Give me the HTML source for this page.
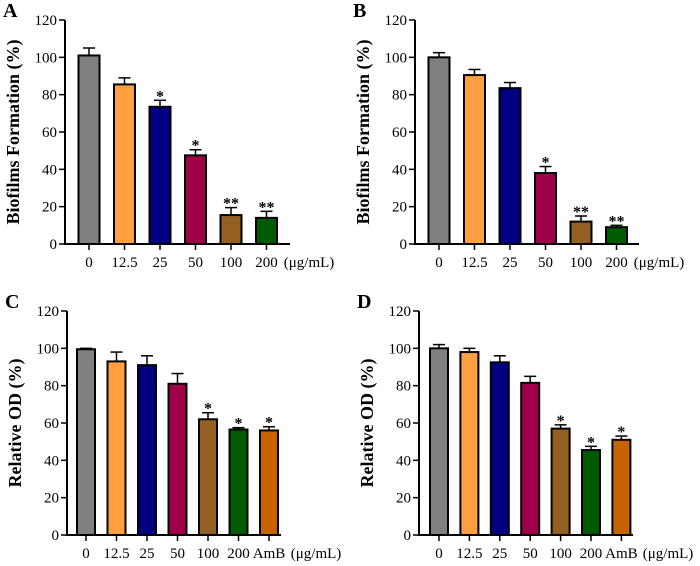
<!DOCTYPE html>
<html><head><meta charset="utf-8"><style>
html,body{margin:0;padding:0;background:#fff;}
svg, svg text{font-family:"Liberation Serif","Times New Roman",Times,serif;}
</style></head><body>
<svg id="chart" width="700" height="561" viewBox="0 0 700 561" font-family="Liberation Serif, Times New Roman, serif"></svg>
<script>
const catsAB = ["0","12.5","25","50","100","200"];
const catsCD = ["0","12.5","25","50","100","200","AmB"];
const valsA = [101, 85.5, 73.5, 47.5, 15.5, 14];
const errA  = [4, 3.5, 3.5, 3, 4, 3.5];
const starA = ["","","*","*","**","**"];
const valsB = [100, 90.5, 83.5, 38, 12, 9];
const errB  = [2.5, 3, 3, 3.5, 3, 1];
const starB = ["","","","*","**","**"];
const valsC = [99.5, 93, 91, 81, 62, 56.5, 56];
const errC  = [0.5, 5, 5, 5.5, 3.5, 1, 2];
const starC = ["","","","","*","*","*"];
const valsD = [100, 98, 92.5, 81.5, 57, 45.5, 51];
const errD  = [2, 2, 3.5, 3.5, 2, 2, 2];
const starD = ["","","","","*","*","*"];
const yTicks = [0,20,40,60,80,100,120];
const colors = ["#808080","#FFA040","#000080","#A0004A","#946022","#005A00","#C86400"];

const NS="http://www.w3.org/2000/svg";
const svg=document.getElementById('chart');
function mk(tag,attrs,parent,text){const e=document.createElementNS(NS,tag);for(const k in attrs)e.setAttribute(k,attrs[k]);if(text!==undefined)e.textContent=text;(parent||svg).appendChild(e);return e;}

function panel(p){
  const g=mk('g',{});
  
  
  const y=v=>p.y0-(v/120)*(p.y0-p.y120);
  const x=i=>p.c0+i*p.step;
  const lt=mk('text',{x:p.ax-62,y:p.y120-3,'font-size':20,'font-weight':'bold'},g,p.letter);
  
  
  p.vals.forEach((v,i)=>{
    const cx=x(i), top=y(v), eTop=y(v+p.err[i]);
    const eb=mk('g',{},g);
    
    
    mk('line',{x1:cx,x2:cx,y1:top,y2:eTop,stroke:'#000','stroke-width':1.5},eb);
    mk('line',{x1:cx-6,x2:cx+6,y1:eTop,y2:eTop,stroke:'#000','stroke-width':1.5},eb);
    const r=mk('rect',{x:cx-p.bw/2,y:top,width:p.bw,height:p.y0-top,fill:colors[i],stroke:'#000','stroke-width':2},g);
    
    
    if(p.star[i]){
      const s=mk('text',{x:cx,y:eTop+1,'text-anchor':'middle','font-size':16,'font-weight':'bold'},g,p.star[i]);
      
      
    }
    mk('line',{x1:cx,x2:cx,y1:p.y0,y2:p.y0+6,stroke:'#000','stroke-width':1.5},g);
    const tl=mk('text',{x:cx,y:p.y0+23,'text-anchor':'middle','font-size':15},g,p.cats[i]);
    
    
  });
  const ya=mk('line',{x1:p.ax,x2:p.ax,y1:p.y120,y2:p.y0+1,stroke:'#000','stroke-width':2},g);
  
  
  const xa=mk('line',{x1:p.ax-1,x2:p.xend,y1:p.y0,y2:p.y0,stroke:'#000','stroke-width':2},g);
  
  
  yTicks.forEach(t=>{
    mk('line',{x1:p.ax-6,x2:p.ax,y1:y(t),y2:y(t),stroke:'#000','stroke-width':1.5},g);
    const tl=mk('text',{x:p.ax-8,y:y(t)+5,'text-anchor':'end','font-size':15},g,String(t));
    
    
  });
  const u=mk('text',{x:p.unitX,y:p.y0+23,'text-anchor':'middle','font-size':15},g,'(\u03BCg/mL)');
  
  
  const cy=(p.y0+p.y120)/2, tx=p.ax-46;
  const at=mk('text',{x:tx,y:cy,'text-anchor':'middle','font-size':18,'font-weight':'bold',transform:`rotate(-90 ${tx} ${cy})`},g,p.title);
  
  
}
panel({letter:'A',cats:catsAB,vals:valsA,err:errA,star:starA,ax:65,y120:20,y0:244,c0:89,step:35.5,bw:21,xend:290,unitX:309,title:'Biofilms Formation (%)'});
panel({letter:'B',cats:catsAB,vals:valsB,err:errB,star:starB,ax:415,y120:20,y0:244,c0:439,step:35.5,bw:21,xend:639,unitX:659,title:'Biofilms Formation (%)'});
panel({letter:'C',cats:catsCD,vals:valsC,err:errC,star:starC,ax:67,y120:311,y0:535,c0:86,step:30.5,bw:18,xend:281,unitX:316,title:'Relative OD (%)'});
panel({letter:'D',cats:catsCD,vals:valsD,err:errD,star:starD,ax:419,y120:311,y0:535,c0:439,step:30.4,bw:18,xend:633,unitX:668,title:'Relative OD (%)'});
</script>
</body></html>
